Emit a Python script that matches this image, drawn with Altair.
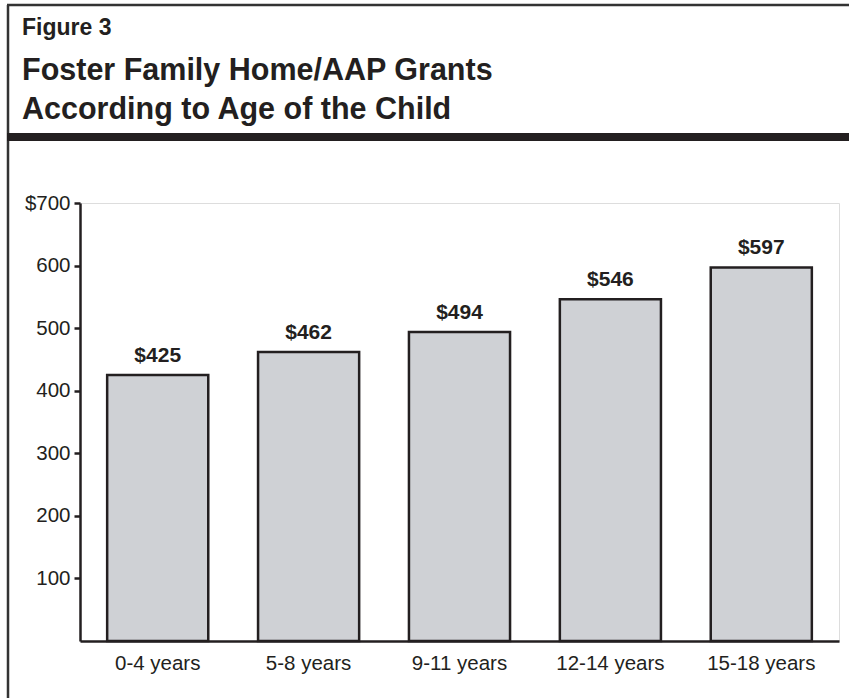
import altair as alt
import pandas as pd

ages = ["0-4 years", "5-8 years", "9-11 years", "12-14 years", "15-18 years"]
grants = [425, 462, 494, 546, 597]
bar_labels = ["$425", "$462", "$494", "$546", "$597"]
y_ticks = [100, 200, 300, 400, 500, 600, 700]
fig_label = "Figure 3"
title_lines = ["Foster Family Home/AAP Grants", "According to Age of the Child"]

df = pd.DataFrame({"age": ages, "grant": grants, "label": bar_labels})
one = pd.DataFrame({"k": [0]})

W, H = 759, 438
FONT = "Liberation Sans"
INK = "#231f20"

x = alt.X(
    "age:N", sort=ages, title=None,
    scale=alt.Scale(paddingInner=0.33, paddingOuter=0.18),
    axis=alt.Axis(labelAngle=0, ticks=False, domainColor=INK, domainWidth=2.5,
                  labelFont=FONT, labelFontSize=20.5, labelColor=INK, labelPadding=12),
)
y = alt.Y(
    "grant:Q", title=None,
    scale=alt.Scale(domain=[0, 700], nice=False, zero=True),
    axis=alt.Axis(values=y_ticks, format="d",
                  labelExpr="datum.value == 700 ? '$700' : datum.label",
                  grid=False, domainColor=INK, domainWidth=2.5,
                  tickColor=INK, tickWidth=2.5, tickSize=6,
                  labelFont=FONT, labelFontSize=20.5, labelColor=INK, labelPadding=4),
)

bars = alt.Chart(df).mark_bar(fill="#cfd1d5", stroke=INK, strokeWidth=2.5).encode(x=x, y=y)
labels = alt.Chart(df).mark_text(
    font=FONT, fontWeight="bold", fontSize=21, color=INK, dy=-13, baseline="alphabetic"
).encode(x=alt.X("age:N", sort=ages), y="grant:Q", text="label:N")

deco_base = alt.Chart(one)
left_border = deco_base.mark_rule(color="#333333", strokeWidth=2.5).encode(
    x=alt.value(-72), y=alt.value(-198), y2=alt.value(500))
top_border = deco_base.mark_rule(color="#333333", strokeWidth=2.5).encode(
    x=alt.value(-73), x2=alt.value(780), y=alt.value(-198))
band = deco_base.mark_rule(color=INK, strokeWidth=8).encode(
    x=alt.value(-73), x2=alt.value(780), y=alt.value(-66))

fig_text = deco_base.mark_text(align="left", baseline="alphabetic", font=FONT,
                               fontWeight="bold", fontSize=23, color=INK).encode(
    x=alt.value(-58), y=alt.value(-168), text=alt.value(fig_label))
t1 = deco_base.mark_text(align="left", baseline="alphabetic", font=FONT,
                         fontWeight="bold", fontSize=30.5, color=INK).encode(
    x=alt.value(-58), y=alt.value(-123), text=alt.value(title_lines[0]))
t2 = deco_base.mark_text(align="left", baseline="alphabetic", font=FONT,
                         fontWeight="bold", fontSize=30.5, color=INK).encode(
    x=alt.value(-58), y=alt.value(-84), text=alt.value(title_lines[1]))

chart = alt.layer(bars, labels, left_border, top_border, band, fig_text, t1, t2).properties(
    width=W, height=H,
    autosize=alt.AutoSizeParams(type="none"),
    padding={"left": 80, "top": 203, "right": 10, "bottom": 57},
).configure_view(stroke=None).configure(background="white")

chart.save("out.html", embed_options={"renderer": "svg", "actions": False})
